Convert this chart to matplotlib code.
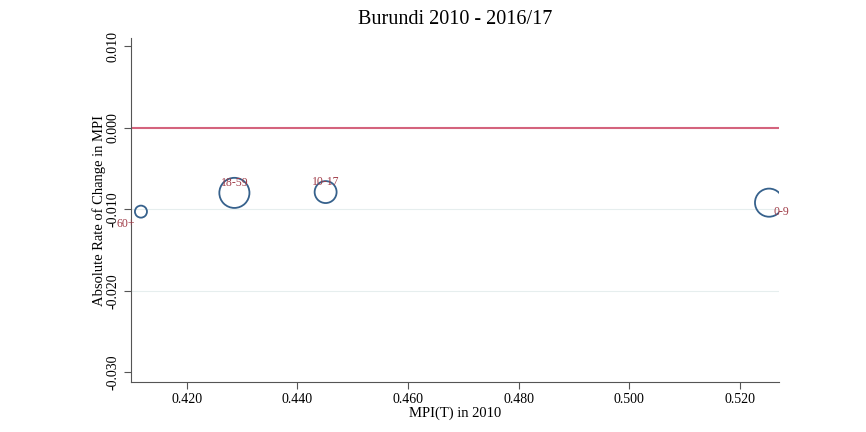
import matplotlib
matplotlib.use("Agg")
import matplotlib.pyplot as plt

plt.rcParams['font.family'] = ['Liberation Serif', 'DejaVu Serif']

groups = ['60+', '18-59', '10-17', '0-9']
mpi_2010 = [0.4117, 0.4286, 0.4451, 0.5253]
abs_change = [-0.0103, -0.0080, -0.0079, -0.0092]
pop_weight = [75, 470, 250, 410]
# label placement: ha, va, dx, dy (points)
label_pos = [('right', 'center', -4, -9), ('center', 'center', 0, 7),
             ('center', 'center', 0, 7), ('left', 'center', 3, -7)]

fig = plt.figure(figsize=(8.66, 4.32), dpi=100)
ax = fig.add_axes([131 / 866, 1 - 382 / 432, 648 / 866, 344 / 432])

ax.axhline(0, color='#d4637d', lw=1.5, zorder=2)
for gy in [-0.02, -0.01]:
    ax.axhline(gy, color='#e6eeee', lw=0.8, zorder=1)
ax.scatter(mpi_2010, abs_change, s=pop_weight, facecolors='none',
           edgecolors='#36618c', linewidths=1.3, zorder=3)
for g, x, y, (ha, va, dx, dy) in zip(groups, mpi_2010, abs_change, label_pos):
    ax.annotate(g, (x, y), xytext=(dx, dy), textcoords='offset points',
                ha=ha, va=va, fontsize=8.5, color='#a03c48', zorder=4)

ax.set_xlim(0.4099, 0.5271)
ax.set_ylim(-0.0312, 0.0110)
ax.set_xticks([0.42, 0.44, 0.46, 0.48, 0.50, 0.52])
ax.set_xticklabels(['0.420', '0.440', '0.460', '0.480', '0.500', '0.520'])
ax.set_yticks([-0.03, -0.02, -0.01, 0.0, 0.01])
ax.set_yticklabels(['-0.030', '-0.020', '-0.010', '0.000', '0.010'], rotation=90, va='center')
ax.tick_params(labelsize=10, color='#555555', length=5, pad=3)
for s in ['top', 'right']:
    ax.spines[s].set_visible(False)
for s in ['left', 'bottom']:
    ax.spines[s].set_color('#555555')

ax.set_xlabel('MPI(T) in 2010', fontsize=10.5, labelpad=0)
ax.set_ylabel('Absolute Rate of Change in MPI', fontsize=10.5, labelpad=1)
ax.set_title('Burundi 2010 - 2016/17', fontsize=14.5, pad=10)

fig.savefig('out.png', dpi=100, facecolor='white')
